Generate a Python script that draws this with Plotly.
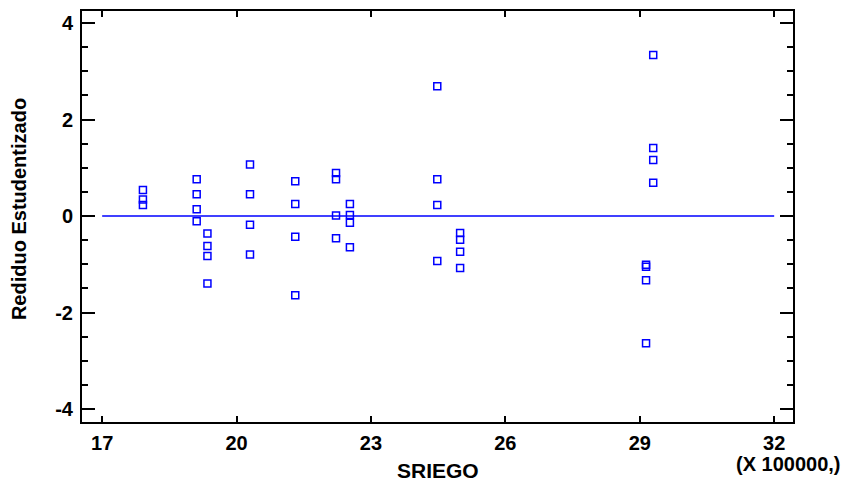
import plotly.graph_objects as go

# SRIEGO (in units of 100000) and studentized residuals
sriego = [17.91, 17.91, 17.91,
          19.11, 19.11, 19.11, 19.11,
          19.35, 19.35, 19.35, 19.35,
          20.30, 20.30, 20.30, 20.30,
          21.31, 21.31, 21.31, 21.31,
          22.22, 22.22, 22.22, 22.22,
          22.53, 22.53, 22.53, 22.53,
          24.48, 24.48, 24.48, 24.48,
          24.99, 24.99, 24.99, 24.99,
          29.30, 29.30, 29.30, 29.30,
          29.14, 29.14, 29.14, 29.14]
residuo = [0.54, 0.34, 0.23,
           0.76, 0.45, 0.14, -0.11,
           -0.36, -0.62, -0.83, -1.40,
           1.07, 0.45, -0.18, -0.80,
           0.72, 0.25, -0.43, -1.64,
           0.89, 0.76, 0.01, -0.46,
           0.25, 0.02, -0.14, -0.65,
           2.69, 0.76, 0.23, -0.93,
           -0.35, -0.49, -0.74, -1.08,
           3.34, 1.41, 1.16, 0.69,
           -1.01, -1.05, -1.33, -2.64]

zero_x = [17, 32]
zero_y = [0, 0]

x_ticks = [17, 20, 23, 26, 29, 32]
y_ticks = [-4, -2, 0, 2, 4]

BLUE = "#0000FF"
FONT = "Liberation Sans"

fig = go.Figure()
fig.add_trace(go.Scatter(x=zero_x, y=zero_y, mode="lines",
                         line=dict(color=BLUE, width=1.5),
                         hoverinfo="skip", showlegend=False))
fig.add_trace(go.Scatter(x=sriego, y=residuo, mode="markers",
                         marker=dict(symbol="square-open", size=7,
                                     color=BLUE, line=dict(color=BLUE, width=1.5)),
                         showlegend=False))

fig.update_layout(
    width=854, height=487, autosize=False,
    margin=dict(l=82, r=61, t=9, b=65),
    paper_bgcolor="white", plot_bgcolor="white",
    font=dict(family=FONT, size=20, color="black"),
    showlegend=False,
)
fig.update_xaxes(
    range=[16.55, 32.42], tickmode="array", tickvals=x_ticks,
    ticktext=[f"<b>{v}</b>" for v in x_ticks],
    ticks="inside", ticklen=6, tickwidth=2, tickcolor="black",
    showline=True, linecolor="black", linewidth=2, mirror="ticks",
    showgrid=False, zeroline=False, ticklabelstandoff=2,
    tickfont=dict(family=FONT, size=20, color="black"),
)
fig.update_yaxes(
    range=[-4.27, 4.25], tickmode="array", tickvals=y_ticks,
    ticktext=[f"<b>{v}</b>" for v in y_ticks],
    ticks="inside", ticklen=13, tickwidth=2, tickcolor="black",
    minor=dict(dtick=0.5, tick0=0, ticks="inside", ticklen=6, tickwidth=2, tickcolor="black"),
    showline=True, linecolor="black", linewidth=2, mirror="ticks",
    showgrid=False, zeroline=False, ticklabelstandoff=3,
    tickfont=dict(family=FONT, size=20, color="black"),
)

fig.add_annotation(text="<b>Rediduo Estudentizado</b>", xref="paper", yref="paper",
                   x=-0.0886, y=0.518, xanchor="center", yanchor="middle",
                   textangle=-90, showarrow=False,
                   font=dict(family=FONT, size=20, color="black"))
fig.add_annotation(text="<b>SRIEGO</b>", xref="paper", yref="paper",
                   x=0.5, y=-0.1186, xanchor="center", yanchor="middle",
                   showarrow=False, font=dict(family=FONT, size=21, color="black"))
fig.add_annotation(text="<b>(X 100000,)</b>", xref="paper", yref="paper",
                   x=0.9937, y=-0.1017, xanchor="center", yanchor="middle",
                   showarrow=False, font=dict(family=FONT, size=20, color="black"))

fig.write_html("out.html", config={"displayModeBar": False},
               post_script="document.body.style.margin='0';")
